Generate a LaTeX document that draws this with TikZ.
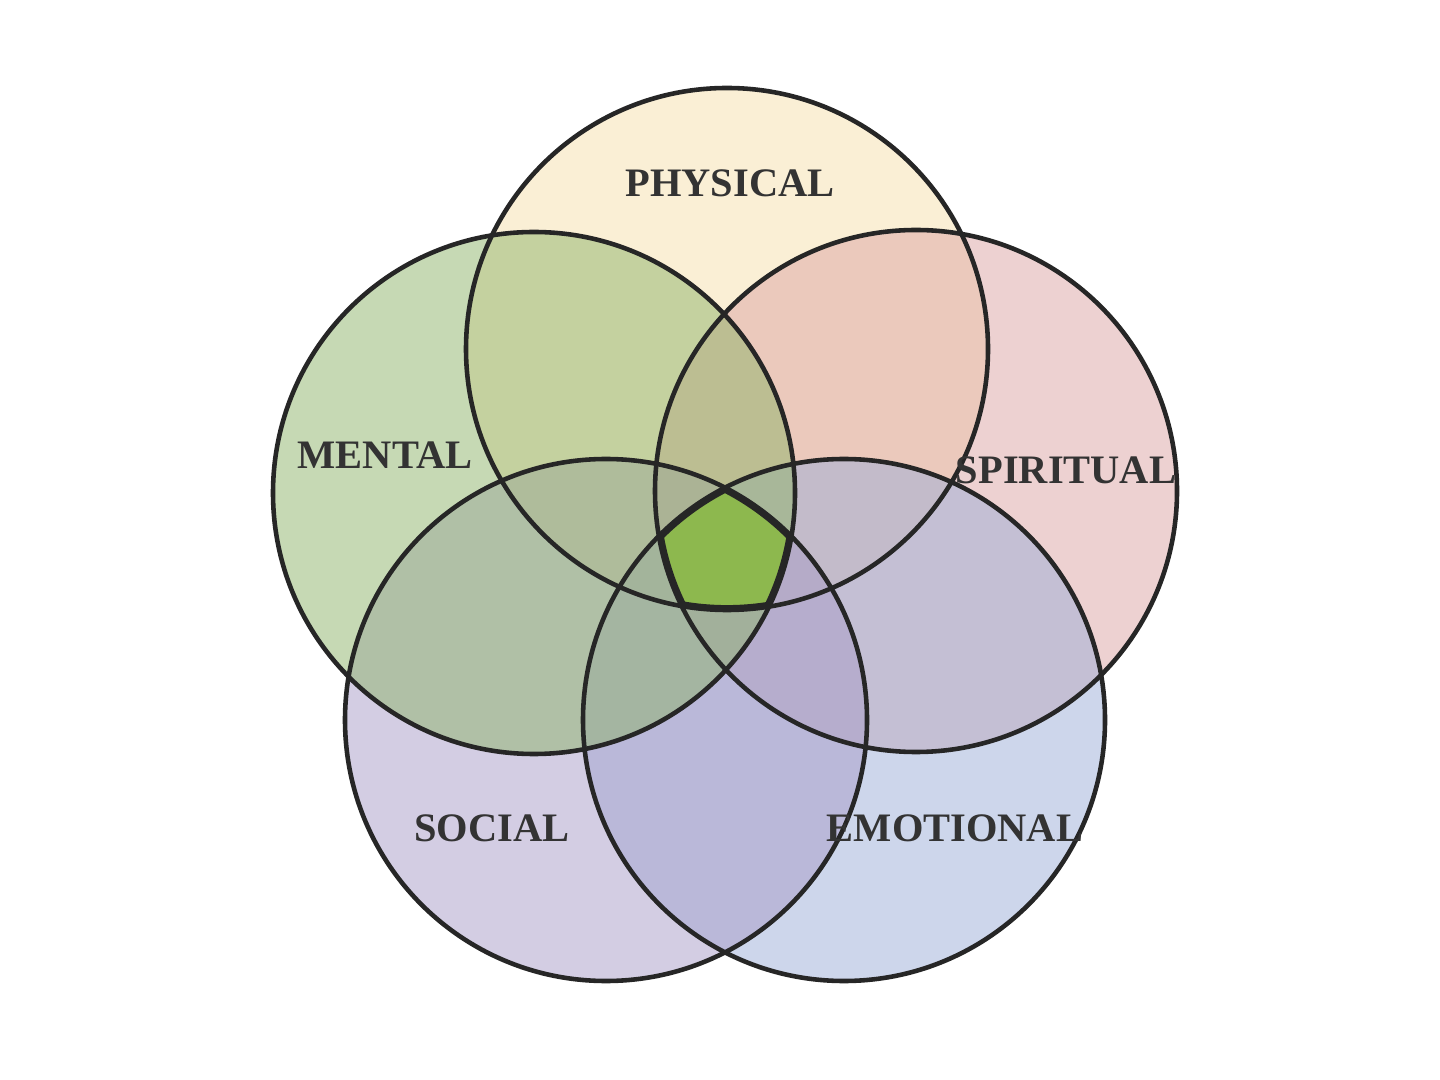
\documentclass[tikz,border=0pt]{standalone}
\usepackage{fontspec}
\setmainfont{Liberation Serif}
\begin{document}
\begin{tikzpicture}[x=0.01cm,y=-0.01cm]
\definecolor{cphy}{HTML}{F6E2B4}
\definecolor{cspi}{HTML}{DDA4A4}
\definecolor{cmen}{HTML}{8FB46A}
\definecolor{csoc}{HTML}{A99CC8}
\definecolor{cemo}{HTML}{9DAFD8}
\definecolor{ccore}{HTML}{8DB84E}
\tikzset{ring/.style={draw=black!85,line width=1.3pt},
 lbl/.style={font=\fontsize{11.5}{14}\selectfont\bfseries,text=black!80}}
\useasboundingbox (0,0) rectangle (1440,1080);
\fill[white] (0,0) rectangle (1440,1080);
\coordinate (P) at (727,349);
\coordinate (S) at (916,491);
\coordinate (E) at (844,720);
\coordinate (O) at (606,720);
\coordinate (M) at (534,493);
\def\R{261}
\fill[cphy,opacity=0.55] (P) circle (\R);
\fill[cspi,opacity=0.5] (S) circle (\R);
\fill[cemo,opacity=0.5] (E) circle (\R);
\fill[csoc,opacity=0.5] (O) circle (\R);
\fill[cmen,opacity=0.5] (M) circle (\R);
\begin{scope}
\clip (P) circle (\R); \clip (S) circle (\R); \clip (E) circle (\R);
\clip (O) circle (\R); \clip (M) circle (\R);
\fill[ccore] (0,0) rectangle (1440,1080);
\foreach \c in {P,S,E,O,M} \draw[black!85,line width=2.8pt] (\c) circle (\R);
\end{scope}
\foreach \c in {P,S,E,O,M} \draw[ring] (\c) circle (\R);
\node[lbl] (tp) at (730,183) {PHYSICAL};
\node[lbl] (tm) at (385,455) {MENTAL};
\node[lbl] (ts) at (1066,470) {SPIRITUAL};
\node[lbl] (to) at (492,828) {SOCIAL};
\node[lbl] (te) at (955,828) {EMOTIONAL};
\end{tikzpicture}
\end{document}
